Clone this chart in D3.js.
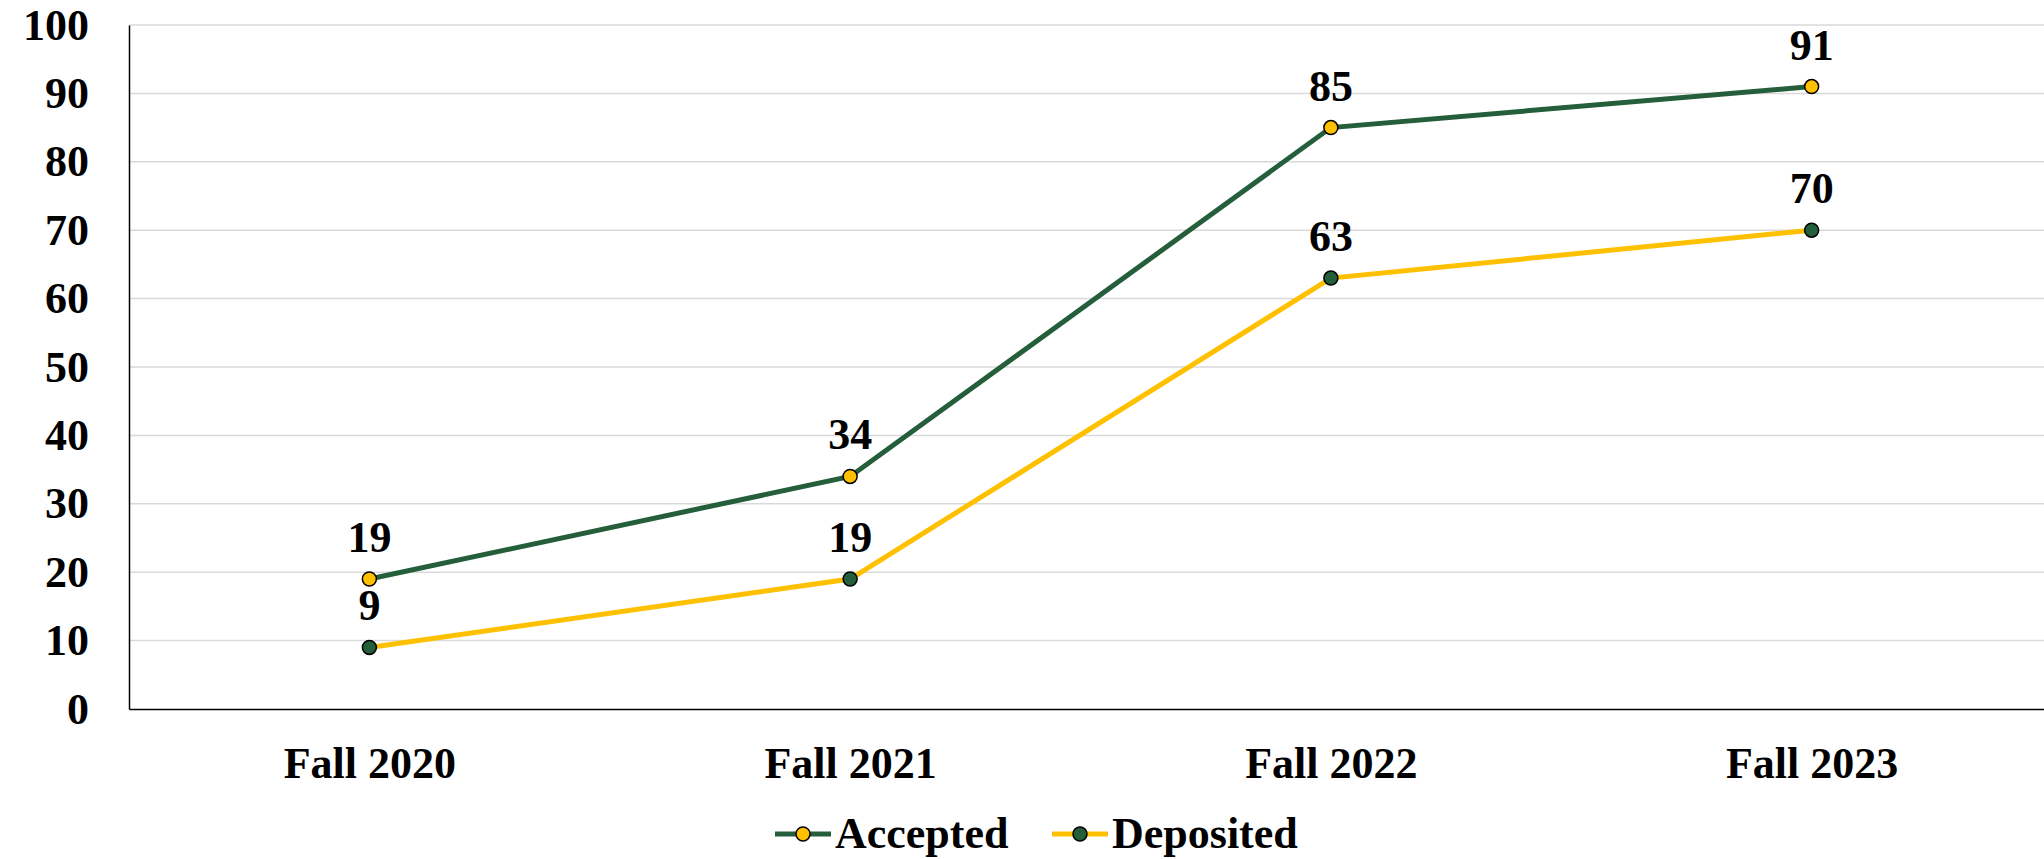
<!DOCTYPE html>
<html>
<head>
<meta charset="utf-8">
<script src="https://cdn.jsdelivr.net/npm/d3@7"></script>
<style>
  body { margin: 0; background: #fff; }
  text { font-family: 'Liberation Serif', 'DejaVu Serif', serif; font-weight: bold; fill: #000; }
</style>
</head>
<body>
<div id="chart"></div>
<script>
const categories = ['Fall 2020', 'Fall 2021', 'Fall 2022', 'Fall 2023'];
const accepted = [19, 34, 85, 91];
const deposited = [9, 19, 63, 70];
const yTicks = [0, 10, 20, 30, 40, 50, 60, 70, 80, 90, 100];

const series = [
  { name: 'Accepted', values: accepted, line: '#245E3A', dot: '#FFC000' },
  { name: 'Deposited', values: deposited, line: '#FFC000', dot: '#245E3A' }
];

const W = 2044, H = 859;
const margin = { top: 25, left: 129, bottom: 150 };
const plotRight = 2052;

const svg = d3.select('#chart')
              .append('svg')
              .attr('width', W)
              .attr('height', H);

const xScale = d3.scalePoint()
                 .domain(categories)
                 .range([margin.left, plotRight])
                 .padding(0.5);

const yScale = d3.scaleLinear()
                 .domain([0, 100])
                 .range([H - margin.bottom, margin.top]);

// gridlines
svg.append('g')
   .selectAll('line')
   .data(yTicks.filter(d => d > 0))
   .enter()
   .append('line')
   .attr('x1', margin.left)
   .attr('x2', plotRight)
   .attr('y1', d => yScale(d))
   .attr('y2', d => yScale(d))
   .attr('stroke', '#D9D9D9')
   .attr('stroke-width', 1.5);

// y axis
const yAxis = d3.axisLeft(yScale).tickValues(yTicks).tickSize(0).tickPadding(40);
const yG = svg.append('g')
   .attr('transform', `translate(${margin.left}, 0)`)
   .call(yAxis);
yG.select('.domain').attr('stroke', '#000').attr('stroke-width', 1.5);
yG.selectAll('text').attr('font-size', 44);

// x axis
const xAxis = d3.axisBottom(xScale).tickSize(0).tickPadding(38);
const xG = svg.append('g')
   .attr('transform', `translate(0, ${yScale(0)})`)
   .call(xAxis);
xG.select('.domain').attr('stroke', '#000').attr('stroke-width', 1.5);
xG.selectAll('text').attr('font-size', 44);
svg.selectAll('.tick text').attr('font-family', null);

const line = d3.line()
               .x((d, i) => xScale(categories[i]))
               .y(d => yScale(d));

series.forEach(s => {
  svg.append('path')
     .datum(s.values)
     .attr('fill', 'none')
     .attr('stroke', s.line)
     .attr('stroke-width', 5)
     .attr('d', line);

  svg.append('g')
     .selectAll('circle')
     .data(s.values)
     .enter()
     .append('circle')
     .attr('cx', (d, i) => xScale(categories[i]))
     .attr('cy', d => yScale(d))
     .attr('r', 7)
     .attr('fill', s.dot)
     .attr('stroke', '#000')
     .attr('stroke-width', 1.5);

  svg.append('g')
     .selectAll('text')
     .data(s.values)
     .enter()
     .append('text')
     .attr('x', (d, i) => xScale(categories[i]))
     .attr('y', d => yScale(d) - 27)
     .attr('text-anchor', 'middle')
     .attr('font-size', 44)
     .text(d => d);
});

// legend
const legendY = 834;
const legendX = [775, 1052];
series.forEach((s, i) => {
  const g = svg.append('g').attr('transform', `translate(${legendX[i]}, ${legendY})`);
  g.append('line')
   .attr('x1', 0).attr('x2', 56)
   .attr('stroke', s.line)
   .attr('stroke-width', 5);
  g.append('circle')
   .attr('cx', 28).attr('r', 7)
   .attr('fill', s.dot)
   .attr('stroke', '#000')
   .attr('stroke-width', 1.5);
  g.append('text')
   .attr('x', 60)
   .attr('y', 14)
   .attr('font-size', 44)
   .text(s.name);
});
</script>
</body>
</html>
